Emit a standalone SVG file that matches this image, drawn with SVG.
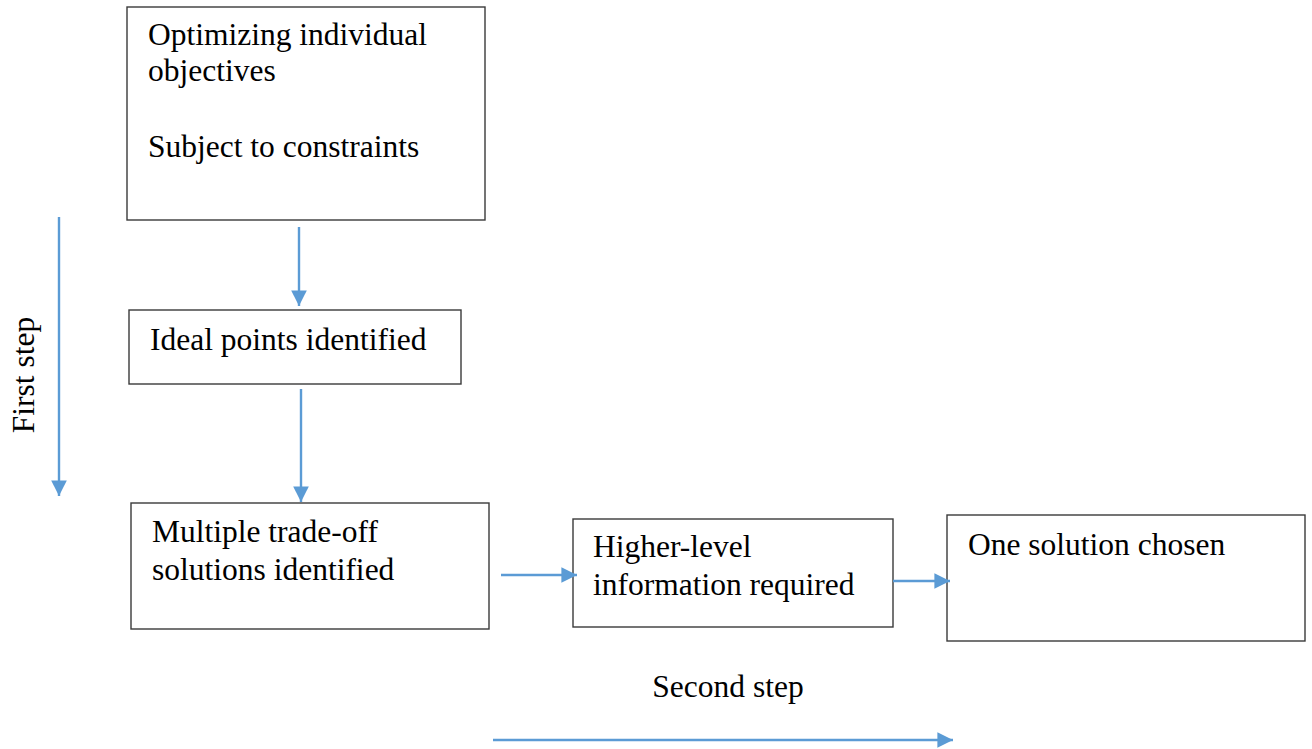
<svg xmlns="http://www.w3.org/2000/svg" width="1312" height="749" viewBox="0 0 1312 749">
<style>
.box{fill:#fff;stroke:#3a3a3a;stroke-width:1.4}
.t{font-family:"Liberation Serif","Times New Roman",serif;font-size:31.5px;fill:#000}
.c{stroke:#5b9bd5;stroke-width:2.4;fill:none}
</style>
<defs>
<marker id="ahs" viewBox="0 0 10 10" refX="10" refY="5" markerWidth="6.5" markerHeight="6.5" orient="auto">
<path d="M0,0 L10,5 L0,10 z" fill="#5b9bd5"/>
</marker>
</defs>
<rect width="1312" height="749" fill="#fff"/>
<g id="n1"><rect class="box" x="127" y="7" width="358" height="213"/>
<text class="t" x="148" y="45">Optimizing individual</text>
<text class="t" x="148" y="81">objectives</text>
<text class="t" x="148" y="157">Subject to constraints</text></g>
<g id="n2"><rect class="box" x="129" y="310" width="332" height="74"/>
<text class="t" x="150" y="350">Ideal points identified</text></g>
<g id="n3"><rect class="box" x="131" y="503" width="358" height="126"/>
<text class="t" x="152" y="542">Multiple trade-off</text>
<text class="t" x="152" y="580">solutions identified</text></g>
<g id="n4"><rect class="box" x="573" y="519" width="320" height="108"/>
<text class="t" x="593" y="557">Higher-level</text>
<text class="t" x="593" y="595">information required</text></g>
<g id="n5"><rect class="box" x="947" y="515" width="358" height="126"/>
<text class="t" x="968" y="555">One solution chosen</text></g>
<g id="labels">
<text class="t" transform="translate(34,375) rotate(-90)" text-anchor="middle">First step</text>
<text class="t" x="728" y="697" text-anchor="middle">Second step</text>
</g>
<g id="connectors">
<line class="c" x1="299" y1="227" x2="299" y2="306" marker-end="url(#ahs)"/>
<line class="c" x1="301" y1="389" x2="301" y2="502" marker-end="url(#ahs)"/>
<line class="c" x1="501" y1="575" x2="577" y2="575" marker-end="url(#ahs)"/>
<line class="c" x1="893" y1="581" x2="950" y2="581" marker-end="url(#ahs)"/>
<line class="c" x1="59" y1="217" x2="59" y2="496" marker-end="url(#ahs)"/>
<line class="c" x1="493" y1="740" x2="953" y2="740" marker-end="url(#ahs)"/>
</g>
</svg>
